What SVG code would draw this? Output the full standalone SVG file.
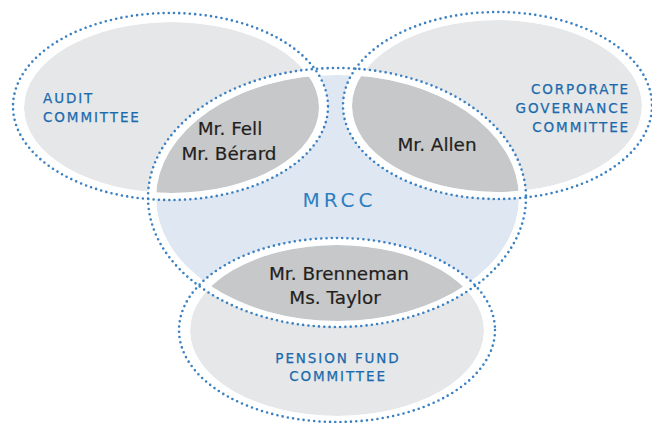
<svg xmlns="http://www.w3.org/2000/svg" width="652" height="423" viewBox="0 0 652 423">
  <defs>
    <style>
      .committee { fill: #e6e7e8; }
      .board { fill: #dfe7f2; }
      .shared { fill: #c7c8c9; }
      .gap { fill: #ffffff; fill-rule: evenodd; }
      .rim { fill: none; stroke: #3a80c3; stroke-width: 2.6; stroke-linecap: round; stroke-dasharray: 0 5.3; }
      .label { font-family: "DejaVu Sans", "Liberation Sans", sans-serif; font-size: 13.5px; letter-spacing: 1.9px; fill: #1a6aad; stroke: #1a6aad; stroke-width: 0.25px; }
      .title { font-family: "DejaVu Sans", "Liberation Sans", sans-serif; font-size: 20px; letter-spacing: 4px; fill: #2f7fc1; text-anchor: middle; }
      .name { font-family: "DejaVu Sans", "Liberation Sans", sans-serif; font-size: 18.4px; fill: #231f20; stroke: #231f20; stroke-width: 0.2px; text-anchor: middle; }
    </style>
    <!-- inner (filled) area of the MRCC circle, used to cut the shared zones -->
    <clipPath id="mrcc-area">
      <ellipse cx="337.5" cy="198" rx="181.5" ry="123"/>
    </clipPath>
  </defs>

  <!-- committee circles (fills and headings) -->
  <g id="audit-committee">
    <ellipse class="committee" cx="171.5" cy="107.5" rx="147.5" ry="85.5"/>
    <text class="label" x="43" y="103">AUDIT</text>
    <text class="label" x="43" y="122">COMMITTEE</text>
  </g>
  <g id="corporate-governance-committee">
    <ellipse class="committee" cx="497" cy="106" rx="145" ry="86"/>
    <text class="label" x="630" y="94" text-anchor="end">CORPORATE</text>
    <text class="label" x="630" y="113" text-anchor="end">GOVERNANCE</text>
    <text class="label" x="630" y="132" text-anchor="end">COMMITTEE</text>
  </g>
  <g id="pension-fund-committee">
    <ellipse class="committee" cx="337" cy="330.5" rx="147" ry="85.5"/>
    <text class="label" x="338" y="363" text-anchor="middle">PENSION FUND</text>
    <text class="label" x="338" y="381" text-anchor="middle">COMMITTEE</text>
  </g>
  <g id="mrcc">
    <ellipse class="board" cx="337.5" cy="198" rx="181.5" ry="123"/>
    <text class="title" x="339.5" y="207">MRCC</text>
  </g>

  <!-- members sitting on both MRCC and another committee -->
  <g id="audit-mrcc">
    <ellipse class="shared" clip-path="url(#mrcc-area)" cx="171.5" cy="107.5" rx="147.5" ry="85.5"/>
    <text class="name" x="230" y="135">Mr. Fell</text>
    <text class="name" x="229" y="160">Mr. Bérard</text>
  </g>
  <g id="governance-mrcc">
    <ellipse class="shared" clip-path="url(#mrcc-area)" cx="497" cy="106" rx="145" ry="86"/>
    <text class="name" x="437" y="151">Mr. Allen</text>
  </g>
  <g id="pension-mrcc">
    <ellipse class="shared" clip-path="url(#mrcc-area)" cx="337" cy="330.5" rx="147" ry="85.5"/>
    <text class="name" x="339" y="280">Mr. Brenneman</text>
    <text class="name" x="335" y="304">Ms. Taylor</text>
  </g>

  <!-- white margins and dotted rims of every circle -->
  <g id="rims">
    <path class="gap" d="M13,106.5 a157.5,93.5 0 1,0 315,0 a157.5,93.5 0 1,0 -315,0 Z M24,107.5 a147.5,85.5 0 1,0 295,0 a147.5,85.5 0 1,0 -295,0 Z"/>
    <path class="gap" d="M343,105.5 a154.5,93.5 0 1,0 309,0 a154.5,93.5 0 1,0 -309,0 Z M352,106 a145,86 0 1,0 290,0 a145,86 0 1,0 -290,0 Z"/>
    <path class="gap" d="M148,197.5 a189,129.5 0 1,0 378,0 a189,129.5 0 1,0 -378,0 Z M156,198 a181.5,123 0 1,0 363,0 a181.5,123 0 1,0 -363,0 Z"/>
    <path class="gap" d="M179,330 a158,92 0 1,0 316,0 a158,92 0 1,0 -316,0 Z M190,330.5 a147,85.5 0 1,0 294,0 a147,85.5 0 1,0 -294,0 Z"/>
    <ellipse class="rim" cx="170.5" cy="106.5" rx="157.5" ry="93.5"/>
    <ellipse class="rim" cx="497.5" cy="105.5" rx="154.5" ry="93.5"/>
    <ellipse class="rim" cx="337" cy="197.5" rx="189" ry="129.5"/>
    <ellipse class="rim" cx="337" cy="330" rx="158" ry="92"/>
  </g>
</svg>
